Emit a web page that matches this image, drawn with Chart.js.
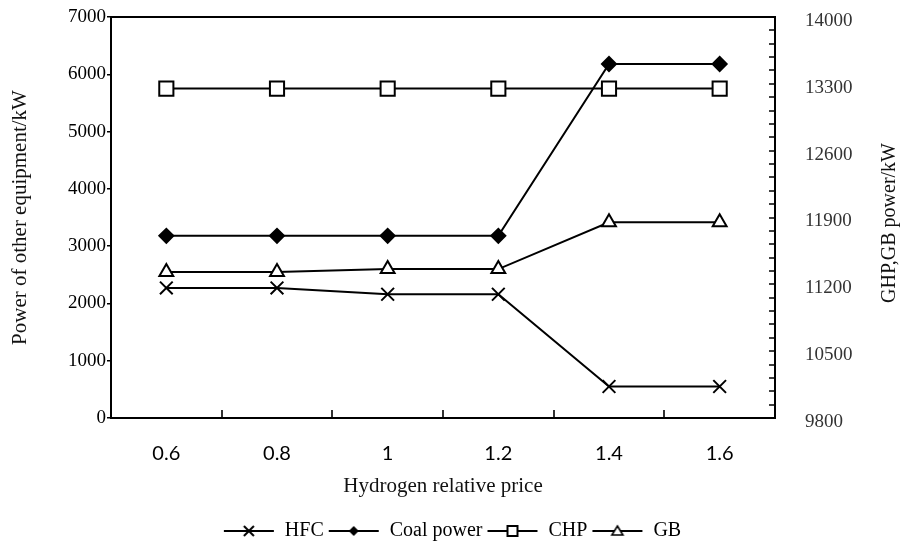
<!DOCTYPE html>
<html lang="en">
<head>
<meta charset="UTF-8">
<title>Power vs hydrogen relative price</title>
<script src="https://cdn.jsdelivr.net/npm/chart.js"></script>
<style>
  html, body { margin: 0; padding: 0; background: #fff; }
  #wrap { width: 904px; height: 541px; }
</style>
</head>
<body>
<div id="wrap"><canvas id="chart"></canvas></div>
<script>
// Data
const prices = ['0.6', '0.8', '1', '1.2', '1.4', '1.6'];
const hfc = [2270, 2270, 2160, 2160, 550, 550];          // left axis
const coalPower = [3180, 3180, 3180, 3180, 6180, 6180];  // left axis
const chp = [13250, 13250, 13250, 13250, 13250, 13250];  // right axis
const gb = [11330, 11330, 11360, 11360, 11850, 11850];   // right axis
const leftRange = [0, 7000, 1000];
const rightRange = [9800, 14000, 700];
const rightMinorStep = 140;

const serif = "'Liberation Serif', 'Times New Roman', serif";
Chart.defaults.font.family = serif;
Chart.defaults.color = '#000';

// small line + marker icons for the legend
function legendIcon(kind) {
    const c = document.createElement('canvas');
    c.width = 52; c.height = 20;
    const g = c.getContext('2d');
    g.strokeStyle = '#000'; g.fillStyle = '#000'; g.lineWidth = 2;
    g.beginPath(); g.moveTo(1, 10); g.lineTo(51, 10); g.stroke();
    const cx = 26, cy = 10;
    g.beginPath();
    if (kind === 'cross') {
        g.moveTo(cx - 5, cy - 5); g.lineTo(cx + 5, cy + 5);
        g.moveTo(cx + 5, cy - 5); g.lineTo(cx - 5, cy + 5);
        g.stroke();
    } else if (kind === 'diamond') {
        g.moveTo(cx, cy - 5); g.lineTo(cx + 5, cy); g.lineTo(cx, cy + 5); g.lineTo(cx - 5, cy);
        g.closePath(); g.fill();
    } else if (kind === 'square') {
        g.fillStyle = '#fff';
        g.rect(cx - 5, cy - 5, 10, 10); g.fill(); g.stroke();
    } else {
        g.fillStyle = '#fff'; g.lineWidth = 1.6;
        g.moveTo(cx, cy - 5); g.lineTo(cx + 5.5, cy + 4); g.lineTo(cx - 5.5, cy + 4);
        g.closePath(); g.fill(); g.stroke();
    }
    return c;
}
const icons = [legendIcon('cross'), legendIcon('diamond'), legendIcon('square'), legendIcon('triangle')];

// frame, inward ticks and right axis title
const framePlugin = {
    id: 'frame',
    beforeDatasetsDraw(chart) {
        const {ctx, chartArea: a, scales} = chart;
        ctx.save();
        ctx.strokeStyle = '#000';
        ctx.lineWidth = 2;
        ctx.strokeRect(a.left, a.top, a.right - a.left, a.bottom - a.top);
        ctx.lineWidth = 1.6;
        ctx.beginPath();
        const x = scales.x;
        for (let i = 0; i < prices.length - 1; i++) {
            const px = Math.round((x.getPixelForValue(i) + x.getPixelForValue(i + 1)) / 2);
            ctx.moveTo(px, a.bottom); ctx.lineTo(px, a.bottom - 8);
        }
        const y1 = scales.y1;
        for (let v = rightRange[0] + rightMinorStep; v < rightRange[1]; v += rightMinorStep) {
            const py = Math.round(y1.getPixelForValue(v));
            ctx.moveTo(a.right, py); ctx.lineTo(a.right - 6, py);
        }
        ctx.stroke();
        ctx.restore();
    },
    afterDraw(chart) {
        const {ctx} = chart;
        ctx.save();
        ctx.translate(890, 223);
        ctx.rotate(-Math.PI / 2);
        ctx.font = '20px ' + serif;
        ctx.fillStyle = '#111';
        ctx.textAlign = 'center';
        ctx.textBaseline = 'middle';
        ctx.fillText('GHP,GB power/kW', 0, 0);
        ctx.restore();
    }
};

const line = (label, data, axis, style, radius, fill) => ({
    label, data, yAxisID: axis,
    borderColor: '#000', borderWidth: 2,
    pointStyle: style, pointRadius: radius, pointHoverRadius: radius,
    pointBackgroundColor: fill, pointBorderColor: '#000', pointBorderWidth: 2,
    tension: 0
});

const plain = v => String(v);

new Chart(document.getElementById('chart'), {
    type: 'line',
    data: {
        labels: prices,
        datasets: [
            line('HFC', hfc, 'y', 'crossRot', 9, '#000'),
            line('Coal power', coalPower, 'y', 'rectRot', 7, '#000'),
            line('CHP', chp, 'y1', 'rect', 10, '#fff'),
            line('GB', gb, 'y1', 'triangle', 8, '#fff')
        ]
    },
    options: {
        responsive: true,
        maintainAspectRatio: false,
        animation: false,
        layout: { padding: { top: 17, left: 0, right: 0, bottom: 0 } },
        plugins: {
            tooltip: { enabled: false },
            legend: {
                position: 'bottom',
                maxHeight: 24,
                labels: {
                    usePointStyle: true,
                    pointStyleWidth: 52,
                    padding: 4,
                    color: '#000',
                    font: { family: serif, size: 20 },
                    generateLabels(chart) {
                        const items = Chart.defaults.plugins.legend.labels.generateLabels(chart);
                        items.forEach((it, i) => { it.pointStyle = icons[i]; });
                        return items;
                    }
                }
            }
        },
        scales: {
            x: {
                type: 'category',
                offset: true,
                grid: { display: false, drawTicks: false },
                border: { display: false },
                ticks: { font: { family: 'Lato', size: 20 }, color: '#000', padding: 24 },
                title: {
                    display: true, text: 'Hydrogen relative price',
                    font: { family: serif, size: 21 }, color: '#111',
                    padding: { top: 0, bottom: 18 }
                },
                afterFit(s) { s.height = 541 - 418 - (s.chart.legend ? s.chart.legend.height : 24); }
            },
            y: {
                position: 'left',
                min: leftRange[0], max: leftRange[1],
                ticks: { stepSize: leftRange[2], padding: 1, font: { family: serif, size: 19 }, color: '#000', callback: plain },
                grid: { drawOnChartArea: false, drawTicks: true, tickLength: 4, color: '#000', lineWidth: 1.5 },
                border: { display: false },
                title: {
                    display: true, text: 'Power of other equipment/kW',
                    font: { family: serif, size: 21 }, color: '#111',
                    padding: { top: 8, bottom: 0 }
                },
                afterFit(s) { s.width = 111; }
            },
            y1: {
                position: 'right',
                min: rightRange[0], max: rightRange[1],
                ticks: { stepSize: rightRange[2], padding: 1, labelOffset: 4, font: { family: serif, size: 19 }, color: '#333', callback: plain },
                // invisible tick marks just to push the labels away from the axis
                grid: { drawOnChartArea: false, drawTicks: true, tickLength: 29, color: 'rgba(0,0,0,0)' },
                border: { display: false },
                afterFit(s) { s.width = 904 - 775; }
            }
        }
    },
    plugins: [framePlugin]
});
</script>
</body>
</html>
